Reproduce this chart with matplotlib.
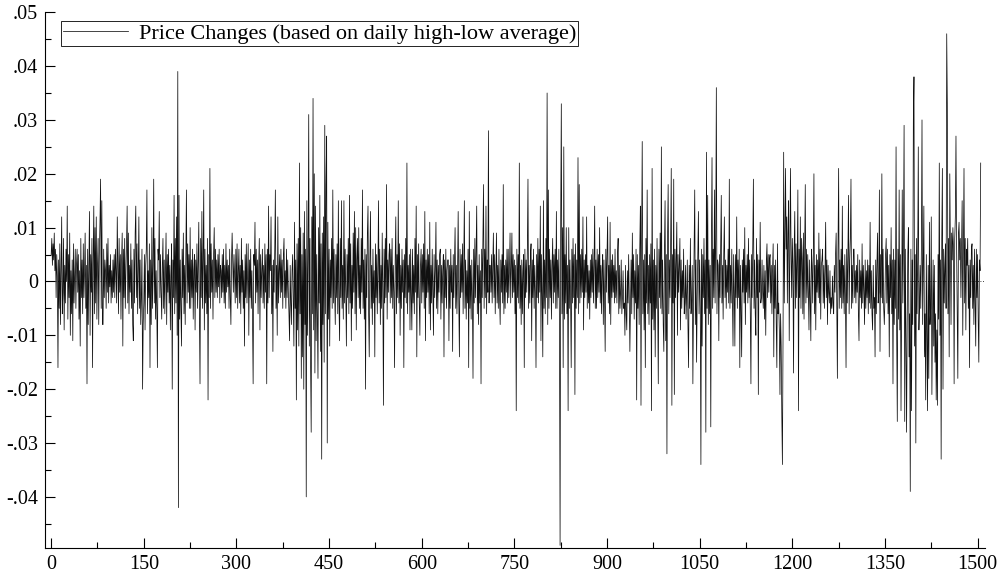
import numpy as np
import matplotlib
matplotlib.use("Agg")
import matplotlib.pyplot as plt
from matplotlib.ticker import MultipleLocator, FuncFormatter

# daily price changes in units of 0.001 (one row = 50 days)
price_changes_milli = [
    5, 8, 3, 7, 4, 9, 2, 6, -3, 5, 1, -16, 4, -5, 7, -8, 2, 12, -6, -2, 8, -9, 3, -4, 6, 0, 14, -7, 5, -3, 9, -10, 2, -6, 4, -11, 7, -4, 1, 6, -5, 3, 6, -2, 5, -7, 2, -12, 8, -3,
    4, -6, 7, -3, 2, 9, -5, 3, -19, 6, -8, 3, 13, -10, 5, -2, 8, -16, 4, 14, -6, 10, -4, 12, -7, 3, 8, -8, 5, 11, 19, -5, 15, -8, -8, 6, -3, 4, 2, -5, 7, -2, 8, -4, 3, -1, 5, -4, 2, -3,
    4, -2, 5, -3, 6, 2, -4, 12, 3, -6, 8, -2, 5, -7, 4, 9, -12, 6, -3, 8, -5, 2, 7, 14, -4, 9, -6, 3, -2, 7, -5, 4, -8, -11, 6, -4, 9, 14, -3, 7, -6, 2, 12, -5, 4, -8, -3, 6, -20, -8,
    -4, 5, -9, 3, 6, 17, -6, 2, -3, 7, -16, 4, -8, 10, -5, 3, 19, -4, 8, -7, 2, -5, -16, 6, 4, 13, -3, 5, -2, -7, 3, 8, -5, 4, -6, 2, 9, -8, 5, -2, 6, -4, 3, -9, 1, 7, -20, 4, -3, 16,
    -6, 8, -4, 12, -10, 39, -42, 16, -7, 4, -5, -12, 6, -3, 9, -6, 3, -8, 5, 17, -4, 7, -2, 5, -5, 10, -5, 4, -3, 6, -7, 2, 5, -9, 4, -2, 7, -5, 3, 11, -6, -19, 8, -3, 13, -5, 4, 17, -9, 6,
    -4, 3, -6, 8, -22, 5, -3, 21, -5, 7, -2, 4, -7, 5, 10, -3, 6, -2, 4, -3, 5, -1, 6, -4, 3, 2, -3, 5, -2, 6, -4, 3, -5, 7, -2, 4, -1, 3, -5, 6, -3, -8, 4, 9, 3, -2, 5, 1, -4, 6,
    -3, 7, -5, 2, 6, -4, 3, -6, 8, -2, 4, -5, 2, -12, 5, -3, 7, -4, 2, 7, -10, 4, -3, 6, -5, 2, -7, -19, 5, 3, 11, -4, 6, -2, 4, -6, 3, 8, -9, 5, -3, 2, 6, -4, 3, -5, 7, -2, 5, -19,
    6, -4, 14, -3, 5, 2, 12, -6, 3, -13, 4, -2, 6, 17, -5, 3, -10, 12, -4, 2, 5, -3, 6, -2, 4, -5, 5, 8, -3, 2, -5, 6, -3, 4, -2, -6, -11, 3, -4, -8, 2, 5, -3, -12, 11, -5, 4, -22, 7, -9,
    8, -12, 22, -6, 10, -18, 5, -14, 9, -20, 13, -8, 6, -40, 15, -10, 4, 31, -12, 8, -15, -28, 12, -6, 34, -9, 20, -17, 14, -11, 5, -7, -18, 10, -4, 16, -13, 7, -33, 9, -8, 12, -15, 29, -6, 18, 27, -30, 11, -7,
    6, -12, 4, -3, 8, -5, 17, -4, 6, -2, -8, 5, -3, 7, -6, 15, -4, -11, 8, -3, 15, -5, 3, -7, 15, -4, 6, -2, -12, 5, -3, 8, -6, 16, -4, 7, -11, 3, -5, 9, -2, 13, -6, 10, -9, 4, 8, -3, 10, -5,
    3, -6, 8, -2, 17, -5, 4, -7, 6, -20, 5, -3, 9, 14, -6, -14, 4, 13, -5, 3, -8, 6, -4, 2, -14, 7, -3, 5, -6, 2, 15, -4, 6, -8, 3, -5, 9, -2, -23, 6, -4, 8, -3, 18, -7, 4, -2, 5, 7, -4,
    6, -3, 8, -5, 3, -2, -16, 4, 12, -6, 5, -3, 15, -4, 7, -10, 3, -5, 6, -2, 4, -16, 5, -3, 8, -4, 22, -6, 3, -2, 5, -9, 6, -3, -9, 6, -4, 3, -6, 8, -2, 14, -14, 5, -3, 7, -4, -10, 3, 6,
    -4, 5, -2, 7, -5, 13, -11, 4, -3, 6, -2, 5, -6, 11, -9, 3, -4, 6, -2, -10, 5, -3, 2, 11, -5, 4, -6, 3, -2, 5, 6, -7, 3, -4, 2, 5, -14, 4, -3, 6, -5, 2, 4, 4, -11, 3, -5, 6, -2, 3,
    -13, 5, -3, 4, 10, -5, 3, -6, 2, 13, -4, -14, 6, -3, 5, -2, 7, -6, 3, 15, -5, 4, -7, 2, -4, 6, -16, 13, -5, 3, -7, 4, -3, -18, 6, -4, 8, -3, 5, 14, -6, 3, -8, 5, -4, 2, -19, 6, -3, 8,
    18, -5, 6, -3, 14, -6, 4, -2, 28, -4, 3, 3, -2, 5, -4, 2, 9, -3, 5, -6, 2, 9, -4, 3, -5, 6, -3, -8, 4, -2, 5, -4, 18, -6, 3, -5, 4, -2, 6, -4, 6, -3, 2, 9, -4, 3, 9, -3, 5, -2,
    4, -6, 3, -24, 6, -3, 5, -4, 22, -5, 3, -8, 4, -6, 2, 5, -16, 6, -3, 4, -2, 6, 19, -5, 3, -4, 5, 7, -11, 4, -3, 6, -5, 3, -2, -16, 5, -3, 8, -4, 6, -2, 14, -11, 5, -3, -14, 15, -5, 4,
    -6, 8, -3, 35, -8, 17, -5, 6, -3, 4, -7, 3, 8, -4, 5, -2, 6, -5, 13, -5, 4, -3, 6, -8, -49, 12, 33, -6, 10, -16, 25, -7, 5, -4, 10, -6, 3, -24, 10, -5, 4, -3, -16, 6, -4, 8, -3, 5, -21, 7,
    -5, 4, -3, 23, -6, 18, -4, 5, -3, 6, -2, 12, -9, 4, -3, 5, -2, 12, -5, 3, -4, 2, -7, 4, -3, 5, -2, 6, -4, 3, 14, -5, 4, -5, 6, -3, 5, -2, 10, -4, 3, -6, 2, 5, -8, 4, -3, -13, 6, -2,
    5, 12, -4, 3, -6, 11, -8, 4, -3, 5, -2, 3, -4, 6, -3, 2, -4, 5, 8, -6, 3, -5, -2, 4, -6, -3, 2, -5, -4, -10, 3, -6, -9, 2, -4, 5, -3, -13, -5, 4, -6, 9, -3, 5, -7, 2, -4, 6, -22, 5,
    -5, 3, -8, 6, 14, -23, 7, 26, -6, 4, -9, 5, -16, 8, -4, 17, -6, 3, -8, 5, -4, 7, -24, 21, -7, 4, -9, 6, -14, 3, -5, 8, -4, -19, 6, -3, 9, -5, 25, -6, 4, -8, -13, 6, 15, -11, 5, -32, 8, 18,
    -6, 4, -3, 7, 21, -23, 5, -4, 19, -21, 6, -3, 4, 11, -10, 5, -2, 3, 8, -9, 4, -5, 2, -3, 6, -6, -4, 3, -7, -2, 4, -8, -16, 3, -5, 8, -6, -4, 3, -19, -5, 6, 17, -8, 4, -15, -3, 5, 13, -6,
    4, -5, -34, 6, -12, 5, -3, 8, -6, 4, -28, 24, -5, 16, -8, 4, -6, 3, -27, 7, 23, -5, 6, -3, 17, -4, 8, 36, -6, 4, 3, -11, 5, -3, 6, 16, -4, 3, -7, 5, 12, -3, 4, -5, 3, -2, 6, -4, 19, -5,
    3, -4, 6, -3, -12, 5, -2, -12, 5, -3, 12, -5, 4, -3, 6, -16, 3, -5, -14, 4, -2, 6, -4, 10, -8, 3, -2, 5, -4, 8, -3, 4, -6, -19, 5, -3, 7, 19, -5, 4, -6, -10, 8, -3, 5, -21, 4, -2, 11, -4,
    -3, 4, -2, -5, 3, -7, 2, -10, 4, 7, -3, 5, -2, 4, 5, -4, 3, -6, 2, 7, -14, 3, -5, 4, -8, -16, 7, -6, -4, -9, -21, -6, -12, -25, -34, -10, 24, -4, 8, 21, 6, 12, -4, 9, 15, -11, 6, 21, 5, -3,
    8, 3, -17, 6, 13, -5, 7, -3, 4, 17, -24, 6, -3, 12, -5, 8, 4, -6, 9, -7, 5, 18, -4, 6, -3, 5, -2, -9, 4, -3, -11, 6, 3, -4, 5, 20, -6, 3, -9, 5, -2, 4, -3, 9, -4, 6, -7, 3, 4, 6,
    -4, 3, -5, 2, 11, -3, 4, -8, 3, -2, -4, 2, -6, -3, -5, 1, -4, -6, 3, -2, 5, 9, -4, -18, 6, 21, -5, 4, -3, 6, -5, 14, -4, 3, -6, 5, -3, -16, 6, -4, 5, 16, -6, 4, 8, 19, -5, 3, -4, 6,
    6, -3, 2, -4, 3, -2, 5, -6, -11, 4, -3, 2, -5, 7, -4, 3, -2, -8, 4, -5, 2, -3, 4, -6, 3, -4, 11, -5, 2, -6, -9, 3, -5, -3, -14, 4, -6, 3, 9, -4, -2, 17, -13, 5, -3, 20, -4, 6, -5, -8,
    -3, 5, 8, -4, 6, -6, 3, -14, 5, -3, 10, -6, 4, -19, 6, -8, 4, -5, 25, -10, -26, 6, -7, 17, -9, 5, -24, -6, 17, -4, 8, 29, -26, 6, -12, -28, -8, 5, 10, -14, -6, -39, 6, -24, 4, -8, 30, 38, -12, 5,
    -30, 8, -6, 4, 25, -9, -4, 3, -5, 6, 30, -8, 4, 14, -14, -6, -22, 5, -10, -24, 3, -18, 11, -8, -5, 12, -21, -7, 4, -12, 3, -15, -6, -22, -9, -23, 5, -7, 22, -10, 4, -33, 8, 21, -20, 6, -4, 3, 7, -5,
    46, 33, -6, 8, -14, 20, 5, -8, 9, 4, 10, 6, -19, 8, 12, 27, 7, -5, -18, 9, 11, 4, 8, -3, 6, 15, -10, 5, 21, -4, 8, -9, 6, 3, 8, -5, 3, -16, 4, -3, 6, 7, -5, 3, -8, 6, -4, -12, 6, -3, 5, -7, -15, 4, 2, 22,
]
legend_label = "Price Changes (based on daily high-low average)"
x_ticks = [0, 150, 300, 450, 600, 750, 900, 1050, 1200, 1350, 1500]
y_ticks = [-0.04, -0.03, -0.02, -0.01, 0, 0.01, 0.02, 0.03, 0.04, 0.05]

price_changes = np.array(price_changes_milli) / 1000.0
days = np.arange(len(price_changes))

plt.rcParams['font.family'] = ['Liberation Serif', 'DejaVu Serif']

fig = plt.figure(figsize=(10, 5.83), dpi=100)
ax = fig.add_axes([0.045, 0.06, 0.94, 0.919])

ax.plot(days, price_changes, color='#111111', lw=0.55, label=legend_label)
ax.axhline(0, color='black', lw=0.6, ls=(0, (1, 2)))

ax.set_xlim(-10, 1512)
ax.set_ylim(-0.0495, 0.05)

for side in ['top', 'right']:
    ax.spines[side].set_visible(False)
ax.spines['left'].set_linewidth(0.8)
ax.spines['bottom'].set_linewidth(0.8)

ax.set_xticks(x_ticks)
ax.xaxis.set_minor_locator(MultipleLocator(75))
ax.set_yticks(y_ticks)
ax.yaxis.set_minor_locator(MultipleLocator(0.005))

def fmt(v, pos):
    if abs(v) < 1e-9:
        return "0"
    s = f"{v:.2f}"
    return s.replace("0.", ".")

ax.yaxis.set_major_formatter(FuncFormatter(fmt))
ax.tick_params(which='both', direction='in', labelsize=14.5, width=0.8)
ax.tick_params(which='major', length=7)
ax.tick_params(which='minor', length=4)
ax.tick_params(axis='x', pad=5)
ax.tick_params(axis='y', pad=5)

leg = ax.legend(loc='upper left', bbox_to_anchor=(0.017, 0.983), fontsize=16,
                frameon=True, fancybox=False, handlelength=2.9, borderpad=0.1,
                borderaxespad=0, handletextpad=0.5)
leg.get_frame().set_edgecolor('black')
leg.get_frame().set_linewidth(0.6)
leg.get_frame().set_alpha(1)

fig.savefig("out.png", dpi=100)
